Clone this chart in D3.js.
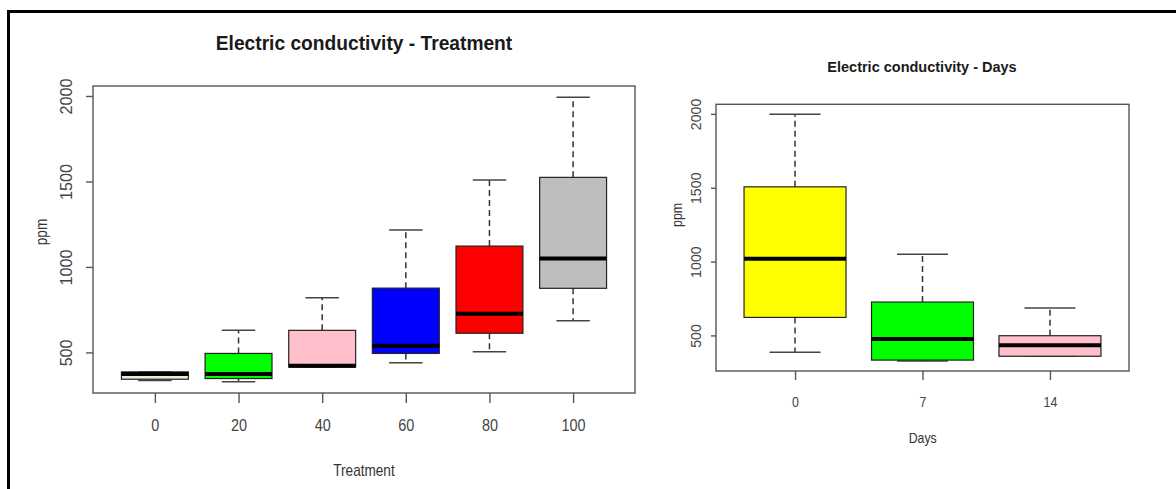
<!DOCTYPE html>
<html>
<head>
<meta charset="utf-8">
<script src="https://cdn.jsdelivr.net/npm/d3@7"></script>
<style>
  html, body { margin: 0; padding: 0; background: #fff; }
  svg { display: block; font-family: "Liberation Sans", Arial, sans-serif; }
</style>
</head>
<body>
<svg id="chart" width="1176" height="489"></svg>
<script>
// ---- Electric conductivity by treatment (ppm) ----
const treatments = ["0", "20", "40", "60", "80", "100"];
const treatMin = [335, 329, 414, 439, 504, 685];
const treatQ1  = [343, 347, 414, 494, 612, 875];
const treatMed = [373, 373, 422, 539, 726, 1049];
const treatQ3  = [386, 494, 629, 876, 1122, 1524];
const treatMax = [386, 629, 820, 1216, 1508, 1992];
const treatColors = ["#efe8d4", "#00ff00", "#ffc0cb", "#0000ff", "#ff0000", "#bebebe"];

// ---- Electric conductivity by days (ppm) ----
const days = ["0", "7", "14"];
const dayMin = [386, 326, 359];
const dayQ1  = [622, 333, 359];
const dayMed = [1019, 476, 433];
const dayQ3  = [1506, 726, 498];
const dayMax = [1998, 1049, 685];
const dayColors = ["#ffff00", "#00ff00", "#ffc0cb"];

const yTicks = [500, 1000, 1500, 2000];

const svg = d3.select("#chart");
svg.append("rect").attr("width", 1176).attr("height", 489).attr("fill", "#fff");

// outer frame (left and top edges)
svg.append("path").attr("d", "M8.5,489 V11.5 H1176")
  .attr("fill", "none").attr("stroke", "#000").attr("stroke-width", 3);

// text helper: centred label, optionally rotated and horizontally condensed
function label(g, text, x, y, o) {
  return g.append("text")
    .attr("transform", `translate(${x},${y}) rotate(${o.rotate || 0}) scale(${o.sx || 1},1)`)
    .attr("text-anchor", "middle")
    .attr("dy", "0.36em")
    .attr("font-size", o.size)
    .attr("font-weight", o.weight || "normal")
    .attr("fill", o.fill || "#333")
    .text(text);
}

function boxplot(cfg) {
  const g = svg.append("g");
  const stats = cfg.cats.map((c, i) => ({
    cat: c, min: cfg.min[i], q1: cfg.q1[i], med: cfg.med[i], q3: cfg.q3[i], max: cfg.max[i], color: cfg.colors[i]
  }));
  const lo = d3.min(cfg.min), hi = d3.max(cfg.max), ext = (hi - lo) * 0.04;
  const y = d3.scaleLinear().domain([lo - ext, hi + ext]).range([cfg.bottom, cfg.top]);
  const x = d3.scalePoint().domain(cfg.cats).range([cfg.left, cfg.right]).padding(cfg.pad);
  const bw = x.step() * 0.8;

  const box = g.selectAll("g.box").data(stats).join("g").attr("class", "box");
  // whiskers
  box.append("line")
    .attr("x1", d => x(d.cat)).attr("x2", d => x(d.cat))
    .attr("y1", d => y(d.q3)).attr("y2", d => y(d.max))
    .attr("stroke", "#333").attr("stroke-width", 1.5).attr("stroke-dasharray", "6,4");
  box.append("line")
    .attr("x1", d => x(d.cat)).attr("x2", d => x(d.cat))
    .attr("y1", d => y(d.q1)).attr("y2", d => y(d.min))
    .attr("stroke", "#333").attr("stroke-width", 1.5).attr("stroke-dasharray", "6,4");
  // staples
  ["min", "max"].forEach(k => {
    box.append("line")
      .attr("x1", d => x(d.cat) - bw / 4).attr("x2", d => x(d.cat) + bw / 4)
      .attr("y1", d => y(d[k])).attr("y2", d => y(d[k]))
      .attr("stroke", "#444").attr("stroke-width", 1.5);
  });
  // boxes
  box.append("rect")
    .attr("x", d => x(d.cat) - bw / 2).attr("width", bw)
    .attr("y", d => y(d.q3)).attr("height", d => y(d.q1) - y(d.q3))
    .attr("fill", d => d.color).attr("stroke", "#222").attr("stroke-width", 1.2);
  // medians
  box.append("line")
    .attr("x1", d => x(d.cat) - bw / 2).attr("x2", d => x(d.cat) + bw / 2)
    .attr("y1", d => y(d.med)).attr("y2", d => y(d.med))
    .attr("stroke", "#000").attr("stroke-width", 4);

  // plot frame
  g.append("rect").attr("x", cfg.left).attr("y", cfg.top)
    .attr("width", cfg.right - cfg.left).attr("height", cfg.bottom - cfg.top)
    .attr("fill", "none").attr("stroke", "#555").attr("stroke-width", 1.4);

  // y axis
  const ya = g.append("g").attr("transform", `translate(${cfg.left},0)`)
    .call(d3.axisLeft(y).tickValues(yTicks).tickSize(cfg.yTickLen).tickFormat(d3.format("d")));
  ya.select(".domain").remove();
  ya.selectAll(".tick line").attr("stroke", "#555").attr("stroke-width", 1.4);
  ya.selectAll(".tick text")
    .attr("x", null).attr("dy", "0.36em").attr("text-anchor", "middle")
    .attr("transform", `translate(${-cfg.yLabOff},0) rotate(-90) scale(${cfg.yLabSx},1)`)
    .attr("font-size", cfg.yLabSize).attr("font-family", null).attr("fill", "#444");

  // x axis
  const xa = g.append("g").attr("transform", `translate(0,${cfg.bottom})`)
    .call(d3.axisBottom(x).tickSize(cfg.xTickLen));
  xa.select(".domain").remove();
  xa.selectAll(".tick line").attr("stroke", "#555").attr("stroke-width", 1.4);
  xa.selectAll(".tick text")
    .attr("y", null).attr("dy", "0.36em").attr("text-anchor", "middle")
    .attr("transform", `translate(0,${cfg.xLabOff}) scale(${cfg.xLabSx},1)`)
    .attr("font-size", cfg.xLabSize).attr("font-family", null).attr("fill", "#444");

  // titles
  label(g, cfg.title, cfg.titleX, cfg.titleY, { size: cfg.titleSize, weight: "bold", sx: cfg.titleSx, fill: "#1a1a1a" });
  label(g, cfg.xTitle, cfg.xTitleX, cfg.xTitleY, { size: cfg.axisTitleSize, sx: cfg.axisTitleSx, fill: "#333" });
  label(g, "ppm", cfg.yTitleX, cfg.yTitleY, { size: cfg.axisTitleSize, sx: cfg.axisTitleSx, rotate: -90, fill: "#333" });
}

boxplot({
  cats: treatments, min: treatMin, q1: treatQ1, med: treatMed, q3: treatQ3, max: treatMax, colors: treatColors,
  left: 93, right: 635, top: 86, bottom: 393, pad: 0.74,
  yTickLen: 7, yLabOff: 27.5, yLabSize: 17, yLabSx: 0.95,
  xTickLen: 10, xLabOff: 32, xLabSize: 17, xLabSx: 0.85,
  title: "Electric conductivity - Treatment", titleX: 364, titleY: 43, titleSize: 20, titleSx: 0.96,
  xTitle: "Treatment", xTitleX: 364, xTitleY: 470, yTitleX: 41.5, yTitleY: 232,
  axisTitleSize: 16, axisTitleSx: 0.85
});

boxplot({
  cats: days, min: dayMin, q1: dayQ1, med: dayMed, q3: dayQ3, max: dayMax, colors: dayColors,
  left: 716, right: 1129, top: 104.3, bottom: 371, pad: 0.62,
  yTickLen: 5, yLabOff: 20, yLabSize: 15, yLabSx: 0.95,
  xTickLen: 9, xLabOff: 30, xLabSize: 15.5, xLabSx: 0.8,
  title: "Electric conductivity - Days", titleX: 922, titleY: 67, titleSize: 14.5, titleSx: 1,
  xTitle: "Days", xTitleX: 922.7, xTitleY: 438, yTitleX: 676.5, yTitleY: 215,
  axisTitleSize: 14.5, axisTitleSx: 0.85
});
</script>
</body>
</html>
